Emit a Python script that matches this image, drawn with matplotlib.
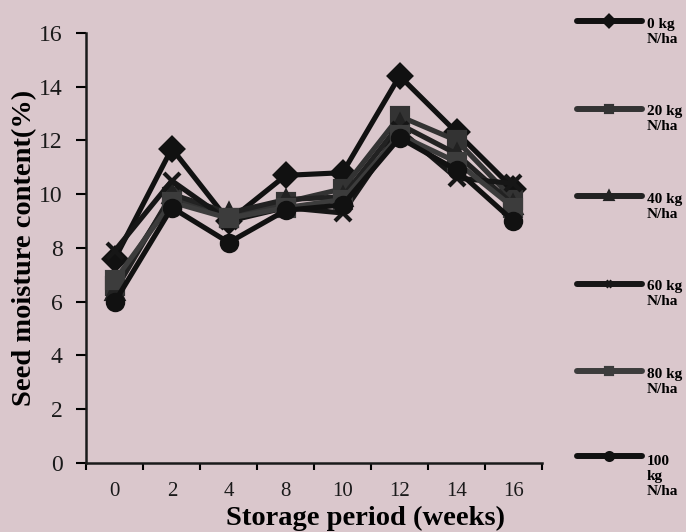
import numpy as np
import matplotlib
matplotlib.use('Agg')
import matplotlib.pyplot as plt

plt.rcParams['font.family'] = ['Liberation Serif', 'DejaVu Serif']

weeks = ['0', '2', '4', '8', '10', '12', '14', '16']

# seed moisture content (%) per nitrogen rate
n0 = [7.6, 11.7, 9.0, 10.7, 10.8, 14.4, 12.3, 10.2]
n20 = [6.6, 9.9, 9.1, 9.7, 10.2, 12.9, 12.0, 9.8]
n40 = [6.4, 10.0, 9.3, 9.8, 9.9, 12.6, 11.5, 9.6]
n60 = [7.9, 10.5, 9.0, 9.5, 9.3, 12.4, 10.6, 10.4]
n80 = [6.8, 9.7, 9.1, 9.5, 9.8, 12.2, 11.2, 9.5]
n100 = [6.0, 9.5, 8.2, 9.4, 9.6, 12.1, 10.9, 9.0]

labels = ['0 kg\nN/ha', '20 kg\nN/ha', '40 kg\nN/ha', '60 kg\nN/ha',
          '80 kg\nN/ha', '100\nkg\nN/ha']

bg = '#dac7cc'
fig = plt.figure(figsize=(6.86, 5.32), dpi=100, facecolor=bg)
ax = fig.add_axes([0.126, 0.130, 0.664, 0.808], facecolor=bg)

x = np.arange(len(weeks))
series = [n0, n20, n40, n60, n80, n100]
markers = ['D', 's', '^', 'x', 's', 'o']
colors = ['#111111', '#333333', '#222222', '#161616', '#3c3c3c', '#111111']
for vals, m, c, lab in zip(series, markers, colors, labels):
    ax.plot(x, vals, color=c, lw=3.7, marker=m, ms=11, mew=3,
            mec=c, mfc=c, label=lab, solid_capstyle='round')

ax.set_xlim(-0.5, 7.5)
ax.set_ylim(0, 16)
ax.set_yticks(np.arange(0, 17, 2))
ax.set_xticks(x)
ax.set_xticklabels(weeks)
ax.set_xticks(np.arange(-0.5, 7.6, 0.5), minor=True)
ax.tick_params(axis='x', which='major', length=0, pad=14, labelsize=15)
ax.tick_params(axis='x', which='minor', length=5, width=1.5, direction='out')
ax.tick_params(axis='y', length=7, width=1.5, direction='out', labelsize=17, pad=10)
for t in ax.get_xticklabels() + ax.get_yticklabels():
    t.set_color('#1a1a1a')

for s in ['top', 'right']:
    ax.spines[s].set_visible(False)
for s in ['left', 'bottom']:
    ax.spines[s].set_linewidth(1.8)
    ax.spines[s].set_color('#1a1a1a')

ax.set_xlabel('Storage period (weeks)', fontsize=20.5, fontweight='bold')
ax.xaxis.set_label_coords(0.613, -0.13)
ax.xaxis.label.set_va('center')
ax.set_ylabel('Seed moisture content(%)', fontsize=20.5, fontweight='bold')
ax.yaxis.set_label_coords(-0.135, 0.5)
ax.yaxis.label.set_va('center')

leg_fs = 11
leg_ls = 1.2
leg = fig.legend(loc='upper left', bbox_to_anchor=(0.841, 0.967), frameon=False,
                 prop={'size': leg_fs, 'weight': 'bold'}, handlelength=4.25,
                 handletextpad=0.33, labelspacing=3.9, markerscale=0.45,
                 borderpad=0, borderaxespad=0)
# put each legend line level with the first row of its label
for txt, h in zip(leg.get_texts(), leg.legend_handles):
    txt.set_linespacing(leg_ls)
    h.set_linewidth(4.3)
    nlines = txt.get_text().count('\n')
    h.set_ydata(np.asarray(h.get_ydata()) + nlines * 0.5 * leg_fs * leg_ls * 1.1)

fig.savefig('out.png', dpi=100, facecolor=bg)
